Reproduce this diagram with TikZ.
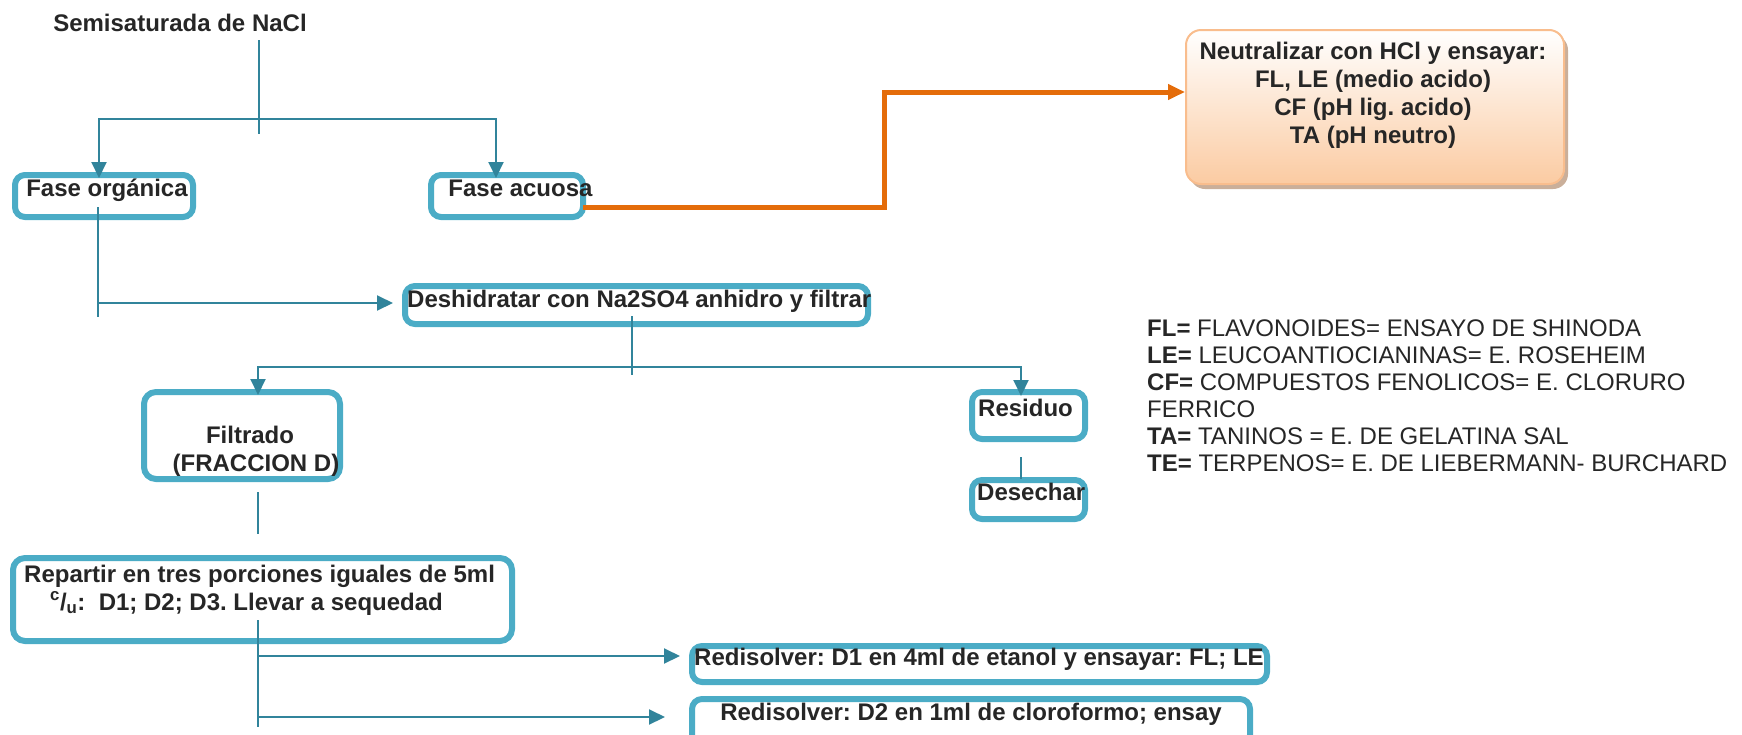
\documentclass[tikz,border=0pt]{standalone}
\usepackage{fontspec}
\setmainfont{Liberation Sans}
\usetikzlibrary{arrows.meta,shadows}
\frenchspacing

\definecolor{boxblue}{HTML}{4BACC6}
\definecolor{lineblue}{HTML}{31849B}
\definecolor{arrorange}{HTML}{E46C0A}
\definecolor{peach}{HTML}{FBCBA2}
\definecolor{peachline}{HTML}{F9BD8D}
\definecolor{shadowtan}{HTML}{C4A68F}
\definecolor{txtgray}{HTML}{262626}

\tikzset{
    box/.style={draw=boxblue, line width=6pt, rounded corners=10pt, fill=white},
    nbox/.style={draw=peachline, line width=2pt, rounded corners=15pt,
        top color=white, bottom color=peach,
        drop shadow={shadow xshift=4pt, shadow yshift=-5pt, fill=shadowtan, opacity=0.9}},
    conn/.style={draw=lineblue, line width=2pt},
    flow/.style={-{Triangle[length=16pt,width=15pt]}},
    flowboth/.style={{Triangle[length=16pt,width=15pt]}-{Triangle[length=16pt,width=15pt]}},
    orangeflow/.style={draw=arrorange, line width=5pt, -{Triangle[length=17pt,width=15pt]}},
    lbl/.style={font=\fontsize{24}{28}\selectfont\bfseries, text=txtgray, inner sep=0pt, anchor=base},
    legtxt/.style={font=\fontsize{24}{28}\selectfont, text=txtgray, inner sep=0pt, anchor=base west}
}

\begin{document}
\begin{tikzpicture}[x=1pt, y=-1pt]

    % Page frame
    \useasboundingbox (0,0) rectangle (1742,734);
    \clip (0,0) rectangle (1742,734);

    % Title
    \node[lbl] (title) at (180,31) {Semisaturada de NaCl};

    % Organic phase
    \node[box, minimum width=178pt, minimum height=42pt] (org) at (104,196) {};
    \node[lbl] (orgtxt) at (107,196) {Fase orgánica};

    % Aqueous phase
    \node[box, minimum width=152pt, minimum height=42pt] (acu) at (507,196) {};
    \node[lbl] (acutxt) at (520.5,196) {Fase acuosa};

    % Neutralize box
    \node[nbox, minimum width=378pt, minimum height=154pt] (neu) at (1375,107) {};
    \node[lbl] (neu1) at (1373,59) {Neutralizar con HCl y ensayar:};
    \node[lbl] (neu2) at (1373,87) {FL, LE (medio acido)};
    \node[lbl] (neu3) at (1373,115) {CF (pH lig. acido)};
    \node[lbl] (neu4) at (1373,143) {TA (pH neutro)};

    % Dehydrate box
    \node[box, minimum width=463pt, minimum height=38pt] (desh) at (636.5,305) {};
    \node[lbl, anchor=base west] (deshtxt) at (407,307) {Deshidratar con Na2SO4 anhidro y filtrar};

    % Filtrate box
    \node[box, rounded corners=12pt, minimum width=196pt, minimum height=87pt] (fil) at (242,435.5) {};
    \node[lbl] (fil1) at (250,443) {Filtrado};
    \node[lbl] (fil2) at (256,471) {(FRACCION D)};

    % Residue and discard
    \node[box, minimum width=113pt, minimum height=47pt] (res) at (1028.5,415.5) {};
    \node[lbl, anchor=base west] (restxt) at (978,416) {Residuo};
    \node[box, minimum width=113pt, minimum height=39pt] (dese) at (1028.5,499.5) {};
    \node[lbl, anchor=base west] (desetxt) at (977,500) {Desechar};

    % Split into portions
    \node[box, rounded corners=12pt, minimum width=499pt, minimum height=83pt] (rep) at (262.5,599.5) {};
    \node[lbl, anchor=base west] (rep1) at (24,582) {Repartir en tres porciones iguales de 5ml};
    \node[lbl, anchor=base west] (rep2) at (50,610) {\textsuperscript{c}/\textsubscript{u}:\ \ D1; D2; D3. Llevar a sequedad};

    % Redissolve D1
    \node[box, minimum width=575pt, minimum height=36pt] (red1) at (979.5,664) {};
    \node[lbl, anchor=base west] (red1txt) at (694,665) {Redisolver: D1 en 4ml de etanol y ensayar: FL; LE};

    % Redissolve D2
    \node[box, minimum width=558pt, minimum height=46pt] (red2) at (971,722) {};
    \node[lbl] (red2txt) at (971,720) {Redisolver: D2 en 1ml de cloroformo; ensay};

    % Legend
    \node[legtxt] (leg1) at (1147,336) {\textbf{FL=} FLAVONOIDES= ENSAYO DE SHINODA};
    \node[legtxt] (leg2) at (1147,363) {\textbf{LE=} LEUCOANTIOCIANINAS= E. ROSEHEIM};
    \node[legtxt] (leg3) at (1147,390) {\textbf{CF=} COMPUESTOS FENOLICOS= E. CLORURO};
    \node[legtxt] (leg4) at (1147,417) {FERRICO};
    \node[legtxt] (leg5) at (1147,444) {\textbf{TA=} TANINOS = E. DE GELATINA SAL};
    \node[legtxt] (leg6) at (1147,471) {\textbf{TE=} TERPENOS= E. DE LIEBERMANN- BURCHARD};

    % Split below the title
    \coordinate (trunk) at (259,40);
    \coordinate (trunkend) at (259,134);
    \coordinate (bar) at (259,119);
    \coordinate (orgin) at (99,178);
    \coordinate (acuin) at (496,178);
    \draw[conn] (trunk) -- (trunkend);
    \draw[conn, flowboth] (orgin) |- (bar) -| (acuin);

    % Aqueous phase to neutralize
    \coordinate (acuout) at (583,207);
    \coordinate (bend) at (884,150);
    \coordinate (neuin) at (1185,92);
    \draw[orangeflow] (acuout) -| (bend) |- (neuin);

    % Organic phase to dehydrate
    \coordinate (orgstem) at (98,207);
    \coordinate (orgfoot) at (98,317);
    \coordinate (deshin) at (393,303);
    \draw[conn] (orgstem) -- (orgfoot);
    \draw[conn, flow] (orgstem |- deshin) -- (deshin);

    % Dehydrate to filtrate and residue
    \coordinate (dstem) at (632,316);
    \coordinate (dfoot) at (632,375);
    \coordinate (bar2) at (632,367);
    \coordinate (filin) at (258,395);
    \coordinate (resin) at (1021,396);
    \draw[conn] (dstem) -- (dfoot);
    \draw[conn, flowboth] (filin) |- (bar2) -| (resin);

    % Residue to discard
    \coordinate (resstem) at (1021,457);
    \coordinate (desein) at (1021,479);
    \draw[conn] (resstem) -- (desein);

    % Filtrate to portions
    \coordinate (filstem) at (258,492);
    \coordinate (filfoot) at (258,534);
    \draw[conn] (filstem) -- (filfoot);

    % Portions to redissolve
    \coordinate (repstem) at (258,620);
    \coordinate (repfoot) at (258,727);
    \coordinate (red1in) at (680,656);
    \coordinate (red2in) at (665,717);
    \draw[conn] (repstem) -- (repfoot);
    \draw[conn, flow] (repstem |- red1in) -- (red1in);
    \draw[conn, flow] (repstem |- red2in) -- (red2in);

\end{tikzpicture}
\end{document}
